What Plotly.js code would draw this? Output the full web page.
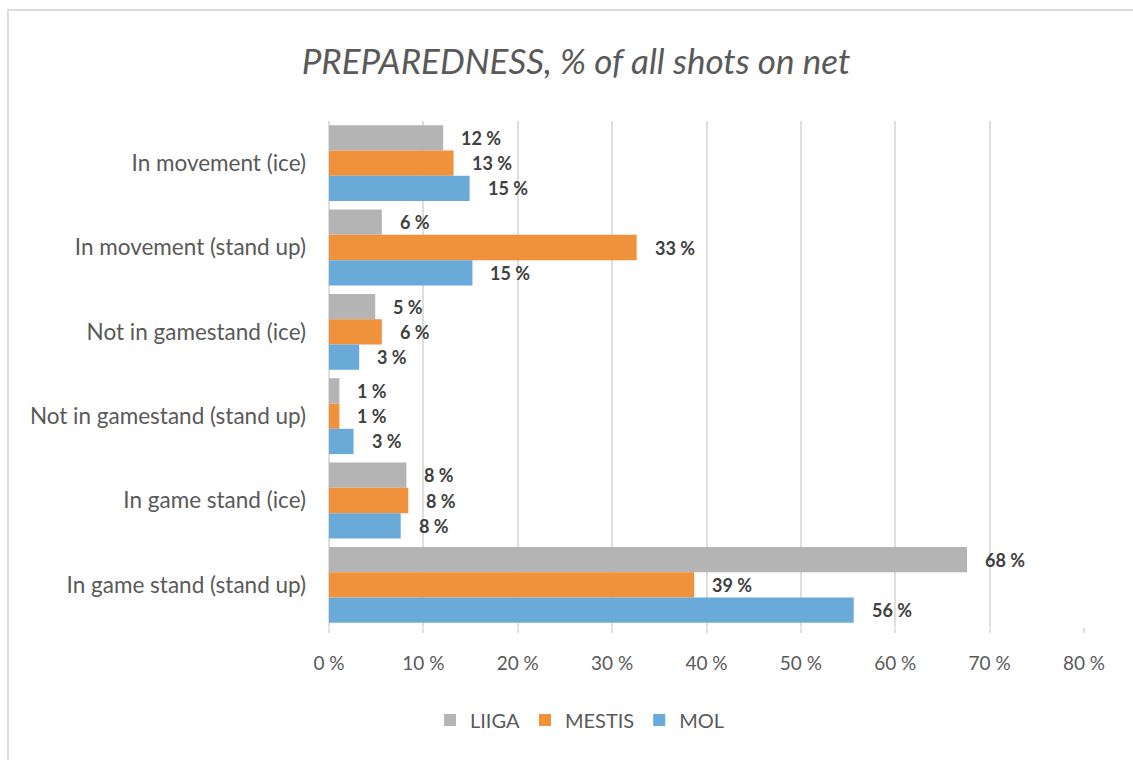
<!DOCTYPE html>
<html>
<head>
<meta charset="utf-8">
<script src="https://cdn.plot.ly/plotly-3.0.1.min.js"></script>
<style>
  html, body { margin: 0; padding: 0; background: #ffffff; }
  #frame { position: absolute; left: 7px; top: 9px; width: 1126px; height: 751px;
           border-left: 2px solid #dcdcdc; border-top: 2px solid #dcdcdc; pointer-events: none; z-index: 5; }
  #chart { width: 1133px; height: 760px; }
</style>
</head>
<body>
<div id="frame"></div>
<div id="chart"></div>
<script>
// ---- data ----
const categories = [
  "In movement (ice)",
  "In movement (stand up)",
  "Not in gamestand (ice)",
  "Not in gamestand (stand up)",
  "In game stand (ice)",
  "In game stand (stand up)"
];
const liiga  = [12.1, 5.6, 4.9, 1.1, 8.2, 67.6];
const mestis = [13.2, 32.6, 5.6, 1.1, 8.4, 38.7];
const mol    = [14.9, 15.2, 3.2, 2.6, 7.6, 55.6];
const seriesNames = ["LIIGA", "MESTIS", "MOL"];
const xTickVals = [0, 10, 20, 30, 40, 50, 60, 70, 80];
const xTickText = xTickVals.map(v => v + " %");
const titleText = "PREPAREDNESS, % of all shots on net";

// ---- styles ----
const colors = ["#b4b4b4", "#f0913b", "#6aaad9"];
const seriesData = [liiga, mestis, mol];
const fontFam = "Lato, 'Open Sans', sans-serif";

const traces = seriesData.map((vals, i) => ({
  type: "bar",
  orientation: "h",
  name: seriesNames[i],
  y: categories,
  x: vals,
  marker: { color: colors[i], line: { width: 0 } },
  hoverinfo: "x+y+name"
}));

const plotTop = 121, plotBottom = 627;
const bandPx = (plotBottom - plotTop) / categories.length;
const barPx = bandPx * 0.9 / 3;
const shifts = [barPx, 0, -barPx];

const annotations = [];
seriesData.forEach((vals, i) => {
  vals.forEach((v, j) => {
    annotations.push({
      x: v, y: categories[j], xref: "x", yref: "y",
      text: Math.round(v) + " %",
      showarrow: false, xanchor: "left", yanchor: "middle",
      xshift: 16, yshift: shifts[i],
      font: { family: fontFam, size: 18, color: "#404040", weight: "bold" }
    });
  });
});

const W = 1133, H = 760, L = 329, R = 1084;
const layout = {
  width: W, height: H,
  margin: { l: L, r: W - R, t: plotTop, b: H - plotBottom, pad: 0 },
  paper_bgcolor: "#ffffff",
  plot_bgcolor: "#ffffff",
  font: { family: fontFam, color: "#595959" },
  title: {
    text: "<i>" + titleText + "</i>",
    xref: "container", x: 576 / W, xanchor: "center",
    yref: "container", y: 1 - 62 / H, yanchor: "middle",
    font: { family: fontFam, size: 35, color: "#595959" }
  },
  barmode: "group",
  bargap: 0.1,
  bargroupgap: 0,
  xaxis: {
    range: [0, 80],
    tickmode: "array",
    tickvals: xTickVals,
    ticktext: xTickText,
    showgrid: true, gridcolor: "#dedede", gridwidth: 2,
    zeroline: true, zerolinecolor: "#dedede", zerolinewidth: 2,
    showline: false,
    ticks: "outside", ticklen: 5, tickwidth: 2, tickcolor: "#dedede",
    ticklabelstandoff: 14,
    tickfont: { family: fontFam, size: 19, color: "#595959" },
    fixedrange: true
  },
  yaxis: {
    type: "category",
    autorange: "reversed",
    showgrid: false, zeroline: false, showline: false,
    ticks: "", ticklabelstandoff: 22,
    tickfont: { family: fontFam, size: 22.5, color: "#595959" },
    fixedrange: true
  },
  showlegend: true,
  legend: {
    orientation: "h",
    xref: "paper", x: (580 - L) / (R - L), xanchor: "center",
    yref: "paper", y: (plotBottom - 720) / (plotBottom - plotTop), yanchor: "middle",
    font: { family: fontFam, size: 20, color: "#595959" },
    traceorder: "normal",
    itemwidth: 30
  },
  annotations: annotations
};

Plotly.newPlot("chart", traces, layout, { displayModeBar: false, staticPlot: true });
</script>
</body>
</html>
